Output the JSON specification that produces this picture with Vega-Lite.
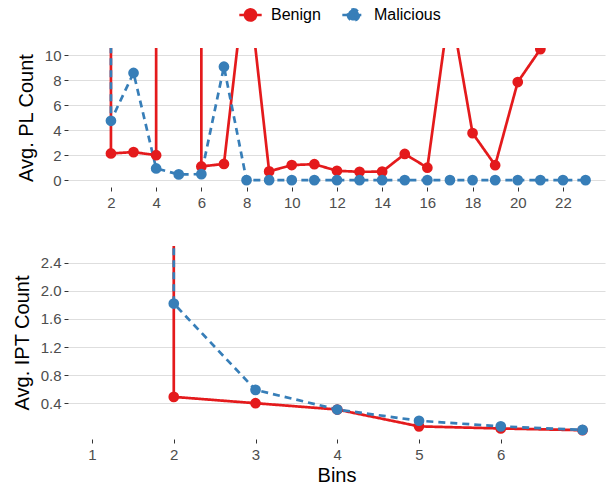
{
  "$schema": "https://vega.github.io/schema/vega-lite/v6.json",
  "padding": {"left": 12, "top": 2, "right": 1, "bottom": 4},
  "config": {
    "view": {"stroke": null},
    "font": "Liberation Sans",
    "axis": {
      "labelFont": "Liberation Sans",
      "labelFontSize": 15,
      "labelColor": "#4D4D4D",
      "titleFont": "Liberation Sans",
      "titleFontSize": 20,
      "titleFontWeight": "normal",
      "titleColor": "#000000",
      "domain": false,
      "tickColor": "#333333",
      "tickSize": 4,
      "tickWidth": 1,
      "gridColor": "#DEDEDE",
      "gridWidth": 1.2,
      "labelPadding": 3
    },
    "axisX": {"grid": false, "labelPadding": 4},
    "axisY": {"grid": true, "titlePadding": 8}
  },
  "datasets": {
    "pl": [
      {"bin": 2, "value": 30, "type": "Benign", "seq": 1},
      {"bin": 2, "value": 2.14, "type": "Benign", "seq": 2},
      {"bin": 3, "value": 2.25, "type": "Benign", "seq": 3},
      {"bin": 4, "value": 2.0, "type": "Benign", "seq": 4},
      {"bin": 4, "value": 30, "type": "Benign", "seq": 5},
      {"bin": 5, "value": 30, "type": "Benign", "seq": 6},
      {"bin": 6, "value": 30, "type": "Benign", "seq": 7},
      {"bin": 6, "value": 1.1, "type": "Benign", "seq": 8},
      {"bin": 7, "value": 1.3, "type": "Benign", "seq": 9},
      {"bin": 8, "value": 17, "type": "Benign", "seq": 10},
      {"bin": 9, "value": 0.7, "type": "Benign", "seq": 11},
      {"bin": 10, "value": 1.21, "type": "Benign", "seq": 12},
      {"bin": 11, "value": 1.28, "type": "Benign", "seq": 13},
      {"bin": 12, "value": 0.75, "type": "Benign", "seq": 14},
      {"bin": 13, "value": 0.67, "type": "Benign", "seq": 15},
      {"bin": 14, "value": 0.68, "type": "Benign", "seq": 16},
      {"bin": 15, "value": 2.1, "type": "Benign", "seq": 17},
      {"bin": 16, "value": 1.0, "type": "Benign", "seq": 18},
      {"bin": 17, "value": 14.2, "type": "Benign", "seq": 19},
      {"bin": 18, "value": 3.77, "type": "Benign", "seq": 20},
      {"bin": 19, "value": 1.2, "type": "Benign", "seq": 21},
      {"bin": 20, "value": 7.87, "type": "Benign", "seq": 22},
      {"bin": 21, "value": 10.5, "type": "Benign", "seq": 23},
      {"bin": 2, "value": 30, "type": "Malicious", "seq": 101},
      {"bin": 2, "value": 4.76, "type": "Malicious", "seq": 102},
      {"bin": 3, "value": 8.6, "type": "Malicious", "seq": 103},
      {"bin": 4, "value": 0.94, "type": "Malicious", "seq": 104},
      {"bin": 5, "value": 0.46, "type": "Malicious", "seq": 105},
      {"bin": 6, "value": 0.48, "type": "Malicious", "seq": 106},
      {"bin": 7, "value": 9.1, "type": "Malicious", "seq": 107},
      {"bin": 8, "value": 0, "type": "Malicious", "seq": 108},
      {"bin": 9, "value": 0, "type": "Malicious", "seq": 109},
      {"bin": 10, "value": 0, "type": "Malicious", "seq": 110},
      {"bin": 11, "value": 0, "type": "Malicious", "seq": 111},
      {"bin": 12, "value": 0, "type": "Malicious", "seq": 112},
      {"bin": 13, "value": 0, "type": "Malicious", "seq": 113},
      {"bin": 14, "value": 0, "type": "Malicious", "seq": 114},
      {"bin": 15, "value": 0, "type": "Malicious", "seq": 115},
      {"bin": 16, "value": 0, "type": "Malicious", "seq": 116},
      {"bin": 17, "value": 0, "type": "Malicious", "seq": 117},
      {"bin": 18, "value": 0, "type": "Malicious", "seq": 118},
      {"bin": 19, "value": 0, "type": "Malicious", "seq": 119},
      {"bin": 20, "value": 0, "type": "Malicious", "seq": 120},
      {"bin": 21, "value": 0, "type": "Malicious", "seq": 121},
      {"bin": 22, "value": 0, "type": "Malicious", "seq": 122},
      {"bin": 23, "value": 0, "type": "Malicious", "seq": 123}
    ],
    "ipt": [
      {"bin": 2, "value": 5, "type": "Benign", "seq": 1},
      {"bin": 2, "value": 0.49, "type": "Benign", "seq": 2},
      {"bin": 3, "value": 0.4, "type": "Benign", "seq": 3},
      {"bin": 4, "value": 0.31, "type": "Benign", "seq": 4},
      {"bin": 5, "value": 0.07, "type": "Benign", "seq": 5},
      {"bin": 6, "value": 0.04, "type": "Benign", "seq": 6},
      {"bin": 7, "value": 0.015, "type": "Benign", "seq": 7},
      {"bin": 2, "value": 5, "type": "Malicious", "seq": 101},
      {"bin": 2, "value": 1.82, "type": "Malicious", "seq": 102},
      {"bin": 3, "value": 0.59, "type": "Malicious", "seq": 103},
      {"bin": 4, "value": 0.31, "type": "Malicious", "seq": 104},
      {"bin": 5, "value": 0.15, "type": "Malicious", "seq": 105},
      {"bin": 6, "value": 0.07, "type": "Malicious", "seq": 106},
      {"bin": 7, "value": 0.02, "type": "Malicious", "seq": 107}
    ]
  },
  "spacing": 36,
  "vconcat": [
    {
      "width": 537,
      "height": 139,
      "data": {"name": "pl"},
      "encoding": {
        "x": {"field": "bin", "type": "quantitative",
              "scale": {"domain": [0.1, 23.86], "nice": false, "zero": false},
              "axis": {"values": [2, 4, 6, 8, 10, 12, 14, 16, 18, 20, 22], "title": null}},
        "y": {"field": "value", "type": "quantitative",
              "scale": {"domain": [-0.55, 10.6], "nice": false, "zero": false},
              "axis": {"values": [0, 2, 4, 6, 8, 10], "title": "Avg. PL Count"}},
        "color": {"field": "type", "type": "nominal",
                  "scale": {"domain": ["Benign", "Malicious"], "range": ["#E41A1C", "#377EB8"]},
                  "legend": {
                    "title": null, "orient": "none", "legendX": 170, "legendY": -46,
                    "direction": "horizontal", "labelFontSize": 16, "labelColor": "#000000",
                    "labelFont": "Liberation Sans",
                    "symbolType": "M-1,0H1M0.5,0A0.5,0.5,0,1,1,-0.5,0A0.5,0.5,0,1,1,0.5,0Z",
                    "symbolSize": 500, "symbolStrokeWidth": 2.5, "columnPadding": 16,
                    "labelOffset": 8,
                    "encode": {"symbols": {"update": {"fill": {"scale": "color", "field": "value"}, "stroke": {"scale": "color", "field": "value"}, "opacity": {"value": 1}}}}
                  }},
        "order": {"field": "seq", "type": "quantitative"}
      },
      "layer": [
        {"mark": {"type": "line", "clip": true, "strokeWidth": 2.7},
         "encoding": {"strokeDash": {"field": "type", "type": "nominal",
            "scale": {"domain": ["Benign", "Malicious"], "range": [[1, 0], [7, 5]]}, "legend": null}}},
        {"mark": {"type": "point", "filled": true, "size": 115, "opacity": 1, "clip": true}}
      ]
    },
    {
      "width": 537,
      "height": 193,
      "data": {"name": "ipt"},
      "encoding": {
        "x": {"field": "bin", "type": "quantitative",
              "scale": {"domain": [0.706, 7.275], "nice": false, "zero": false},
              "axis": {"values": [1, 2, 3, 4, 5, 6], "title": "Bins", "titlePadding": 3}},
        "y": {"field": "value", "type": "quantitative",
              "scale": {"domain": [-0.11, 2.64], "nice": false, "zero": false},
              "axis": {"values": [0.4, 0.8, 1.2, 1.6, 2.0, 2.4], "format": ".1f", "title": "Avg. IPT Count"}},
        "color": {"field": "type", "type": "nominal",
                  "scale": {"domain": ["Benign", "Malicious"], "range": ["#E41A1C", "#377EB8"]}},
        "order": {"field": "seq", "type": "quantitative"}
      },
      "layer": [
        {"mark": {"type": "line", "clip": true, "strokeWidth": 2.7},
         "encoding": {"strokeDash": {"field": "type", "type": "nominal",
            "scale": {"domain": ["Benign", "Malicious"], "range": [[1, 0], [7, 5]]}, "legend": null}}},
        {"mark": {"type": "point", "filled": true, "size": 115, "opacity": 1, "clip": true}}
      ]
    }
  ]
}
